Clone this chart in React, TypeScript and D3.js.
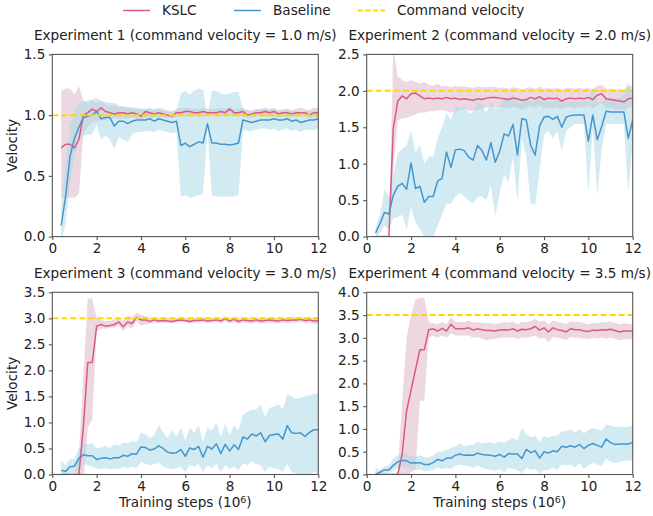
import * as d3 from 'd3';
import React, { useEffect, useRef } from 'react';

// training steps (x 10^6), one sample every 0.2
const steps = [
  0.4, 0.6, 0.8, 1.0, 1.2, 1.4, 1.6, 1.8, 2.0, 2.2,
  2.4, 2.6, 2.8, 3.0, 3.2, 3.4, 3.6, 3.8, 4.0, 4.2,
  4.4, 4.6, 4.8, 5.0, 5.2, 5.4, 5.6, 5.8, 6.0, 6.2,
  6.4, 6.6, 6.8, 7.0, 7.2, 7.4, 7.6, 7.8, 8.0, 8.2,
  8.4, 8.6, 8.8, 9.0, 9.2, 9.4, 9.6, 9.8, 10.0, 10.2,
  10.4, 10.6, 10.8, 11.0, 11.2, 11.4, 11.6, 11.8, 12.0,
];

// Experiment 1
const e1KslcMean = [
  0.73, 0.76, 0.76, 0.73, 0.80, 1.00, 1.02, 1.05, 1.03, 1.06,
  1.03, 1.02, 1.01, 1.02, 1.02, 1.01, 1.02, 1.01, 0.99, 1.03,
  1.02, 1.01, 1.02, 1.01, 1.00, 0.99, 1.02, 1.02, 1.03, 1.03,
  1.02, 1.02, 1.03, 1.02, 1.02, 1.02, 1.03, 1.02, 1.05, 1.02,
  1.02, 1.03, 1.00, 1.01, 1.02, 1.02, 1.03, 1.02, 1.03, 1.01,
  1.02, 1.02, 1.01, 1.02, 1.02, 1.02, 1.00, 1.02, 1.02,
];
const e1KslcLo = [
  0.32, 0.32, 0.32, 0.32, 0.35, 0.85, 0.90, 0.94, 0.95, 0.96,
  0.96, 0.97, 0.97, 0.97, 0.97, 0.97, 0.98, 0.97, 0.96, 0.98,
  0.98, 0.98, 0.98, 0.98, 0.98, 0.97, 0.98, 0.99, 0.99, 0.99,
  0.99, 0.99, 0.99, 0.99, 0.99, 0.99, 0.99, 0.99, 0.99, 0.99,
  0.99, 0.99, 0.98, 0.98, 0.99, 0.99, 0.99, 0.99, 0.99, 0.98,
  0.99, 0.98, 0.98, 0.99, 0.99, 0.98, 0.97, 0.98, 0.98,
];
const e1KslcHi = [
  1.20, 1.22, 1.22, 1.17, 1.24, 1.12, 1.10, 1.12, 1.10, 1.11,
  1.09, 1.08, 1.08, 1.07, 1.07, 1.06, 1.06, 1.05, 1.05, 1.05,
  1.05, 1.04, 1.05, 1.04, 1.03, 1.03, 1.05, 1.06, 1.06, 1.06,
  1.05, 1.05, 1.06, 1.05, 1.05, 1.05, 1.06, 1.05, 1.07, 1.05,
  1.05, 1.06, 1.04, 1.04, 1.05, 1.05, 1.06, 1.05, 1.06, 1.04,
  1.05, 1.05, 1.04, 1.05, 1.06, 1.05, 1.04, 1.06, 1.06,
];
const e1BaseMean = [
  0.09, 0.33, 0.66, 0.81, 0.90, 0.98, 0.99, 1.00, 1.03, 0.97,
  0.98, 0.98, 0.91, 0.95, 0.95, 0.93, 0.95, 0.96, 0.96, 0.96,
  0.97, 0.95, 0.97, 0.96, 0.95, 0.94, 0.95, 0.75, 0.77, 0.74,
  0.76, 0.78, 0.77, 0.93, 0.77, 0.77, 0.76, 0.76, 0.755, 0.76,
  0.77, 0.96, 0.95, 0.94, 0.95, 0.96, 0.96, 0.96, 0.97, 0.96,
  0.96, 0.97, 0.95, 0.96, 0.94, 0.95, 0.96, 0.96, 0.97,
];
const e1BaseLo = [
  -0.05, 0.10, 0.45, 0.65, 0.78, 0.83, 0.84, 0.84, 0.92, 0.80,
  0.83, 0.80, 0.72, 0.82, 0.80, 0.78, 0.84, 0.86, 0.86, 0.87,
  0.87, 0.86, 0.88, 0.87, 0.86, 0.85, 0.86, 0.33, 0.34, 0.32,
  0.33, 0.34, 0.35, 0.88, 0.34, 0.33, 0.33, 0.33, 0.33, 0.33,
  0.34, 0.88, 0.87, 0.87, 0.88, 0.89, 0.89, 0.88, 0.89, 0.87,
  0.88, 0.89, 0.87, 0.88, 0.86, 0.88, 0.88, 0.88, 0.89,
];
const e1BaseHi = [
  0.25, 0.60, 0.92, 1.02, 1.10, 1.11, 1.12, 1.13, 1.14, 1.12,
  1.11, 1.10, 1.10, 1.08, 1.07, 1.07, 1.06, 1.06, 1.05, 1.05,
  1.06, 1.05, 1.06, 1.05, 1.04, 1.03, 1.04, 1.18, 1.20, 1.17,
  1.20, 1.22, 1.21, 0.98, 1.20, 1.20, 1.18, 1.17, 1.18, 1.19,
  1.19, 1.05, 1.04, 1.03, 1.04, 1.05, 1.05, 1.04, 1.05, 1.03,
  1.04, 1.05, 1.03, 1.04, 1.02, 1.03, 1.04, 1.03, 1.04,
];

// Experiment 2
const e2KslcMean = [
  0, 0, 0, 0, 1.49, 1.86, 1.93, 1.89, 1.96, 1.97,
  1.93, 1.89, 1.90, 1.89, 1.90, 1.89, 1.91, 1.89, 1.90, 1.88,
  1.89, 1.88, 1.87, 1.89, 1.88, 1.90, 1.91, 1.91, 1.90, 1.89,
  1.88, 1.90, 1.89, 1.87, 1.88, 1.91, 1.89, 1.92, 1.88, 1.90,
  1.89, 1.90, 1.86, 1.89, 1.90, 1.89, 1.90, 1.89, 1.91, 1.88,
  1.94, 1.96, 1.89, 1.88, 1.87, 1.86, 1.85, 1.89, 1.90,
];
const e2KslcLo = [
  0, 0, 0, 0, 0.90, 1.60, 1.62, 1.63, 1.65, 1.68,
  1.70, 1.70, 1.72, 1.72, 1.73, 1.74, 1.72, 1.70, 1.72, 1.74,
  1.75, 1.73, 1.72, 1.74, 1.75, 1.77, 1.78, 1.77, 1.78, 1.76,
  1.76, 1.78, 1.77, 1.74, 1.76, 1.79, 1.76, 1.80, 1.75, 1.77,
  1.76, 1.78, 1.74, 1.77, 1.78, 1.76, 1.78, 1.77, 1.79, 1.76,
  1.80, 1.84, 1.76, 1.76, 1.75, 1.74, 1.73, 1.77, 1.78,
];
const e2KslcHi = [
  0, 0, 0, 0, 2.60, 2.20, 2.15, 2.12, 2.15, 2.12,
  2.10, 2.12, 2.08, 2.07, 2.10, 2.06, 2.07, 2.05, 2.07, 2.06,
  2.06, 2.05, 2.04, 2.06, 2.05, 2.05, 2.06, 2.05, 2.04, 2.05,
  2.03, 2.05, 2.04, 2.02, 2.04, 2.05, 2.03, 2.06, 2.03, 2.04,
  2.03, 2.04, 2.02, 2.04, 2.04, 2.03, 2.04, 2.03, 2.04, 2.02,
  2.07, 2.08, 2.03, 2.03, 2.02, 2.02, 2.01, 2.08, 2.06,
];
const e2BaseMean = [
  0.05, 0.18, 0.33, 0.31, 0.57, 0.69, 0.73, 0.65, 1.01, 0.66,
  0.69, 0.47, 0.55, 0.55, 0.76, 0.80, 1.16, 0.95, 1.19, 1.20,
  1.18, 1.09, 1.05, 1.25, 1.18, 1.05, 1.29, 1.02, 1.17, 1.41,
  1.38, 1.54, 1.12, 1.62, 1.60, 1.25, 1.12, 1.52, 1.64, 1.65,
  1.61, 1.65, 1.50, 1.64, 1.66, 1.67, 1.67, 1.67, 1.31, 1.67,
  1.33, 1.51, 1.72, 1.71, 1.71, 1.71, 1.71, 1.35, 1.60,
];
const e2BaseLo = [
  0.00, 0.05, 0.15, 0.10, 0.25, 0.27, 0.30, 0.10, 0.40, 0.20,
  0.10, 0.00, -0.05, 0.00, 0.15, 0.30, 0.45, 0.45, 0.55, 0.60,
  0.55, 0.50, 0.45, 0.55, 0.55, 0.50, 0.70, 0.28, 0.60, 0.85,
  0.75, 1.10, 0.48, 1.35, 1.10, 0.45, 0.44, 0.90, 1.40, 1.45,
  1.35, 1.45, 1.17, 1.45, 1.50, 1.55, 1.55, 1.55, 0.60, 1.50,
  0.58, 1.20, 1.55, 1.55, 1.55, 1.55, 1.55, 0.60, 1.30,
];
const e2BaseHi = [
  0.12, 0.30, 0.65, 0.55, 0.85, 1.15, 1.20, 1.25, 1.45, 1.15,
  1.25, 1.00, 1.10, 1.10, 1.35, 1.50, 1.70, 1.60, 1.80, 1.75,
  1.80, 1.70, 1.70, 1.85, 1.80, 1.70, 1.85, 1.75, 1.80, 1.90,
  1.90, 1.95, 1.85, 1.85, 1.90, 1.85, 1.88, 1.90, 1.90, 1.85,
  1.85, 1.90, 1.85, 1.85, 1.85, 1.85, 1.85, 1.87, 1.85, 2.05,
  1.85, 1.85, 1.90, 1.90, 1.90, 1.90, 1.95, 2.10, 1.90,
];

// Experiment 3
const e3KslcMean = [
  0, 0, 0, 0, 0, 0.90, 2.15, 2.15, 2.85, 2.88,
  2.85, 2.86, 2.88, 2.93, 2.84, 2.93, 2.90, 3.02, 2.97, 2.97,
  2.94, 2.97, 2.95, 2.96, 2.95, 2.94, 2.96, 2.97, 2.96, 2.94,
  2.96, 2.96, 2.97, 2.95, 2.96, 2.97, 2.95, 2.99, 2.95, 2.98,
  2.94, 2.97, 2.96, 2.95, 2.97, 2.95, 2.96, 2.97, 2.96, 2.95,
  2.97, 2.96, 2.97, 2.97, 2.98, 2.96, 2.97, 2.95, 2.96,
];
const e3KslcLo = [
  0, 0, 0, 0, -0.2, -0.2, 0.90, 1.05, 2.75, 2.80,
  2.80, 2.82, 2.82, 2.87, 2.75, 2.85, 2.80, 2.95, 2.86, 2.88,
  2.90, 2.92, 2.91, 2.92, 2.91, 2.90, 2.92, 2.93, 2.92, 2.90,
  2.92, 2.92, 2.93, 2.91, 2.92, 2.93, 2.91, 2.94, 2.90, 2.93,
  2.89, 2.92, 2.91, 2.90, 2.92, 2.90, 2.91, 2.92, 2.91, 2.90,
  2.92, 2.91, 2.92, 2.92, 2.93, 2.91, 2.92, 2.88, 2.89,
];
const e3KslcHi = [
  0, 0, 0, 0, 0.40, 1.90, 3.38, 3.38, 3.00, 2.97,
  2.95, 2.95, 2.98, 3.00, 2.95, 3.05, 3.02, 3.10, 3.07, 3.04,
  3.00, 3.02, 3.00, 3.01, 3.00, 2.99, 3.01, 3.02, 3.01, 3.00,
  3.01, 3.01, 3.02, 3.00, 3.01, 3.02, 3.00, 3.04, 3.00, 3.03,
  2.99, 3.02, 3.01, 3.00, 3.02, 3.00, 3.01, 3.02, 3.01, 3.00,
  3.02, 3.01, 3.02, 3.02, 3.03, 3.01, 3.02, 3.01, 3.02,
];
const e3BaseMean = [
  0.08, 0.06, 0.15, 0.16, 0.31, 0.38, 0.36, 0.36, 0.29, 0.31,
  0.32, 0.30, 0.32, 0.32, 0.37, 0.35, 0.40, 0.39, 0.53, 0.52,
  0.47, 0.49, 0.55, 0.50, 0.43, 0.41, 0.42, 0.48, 0.35, 0.51,
  0.48, 0.54, 0.33, 0.54, 0.49, 0.59, 0.40, 0.58, 0.45, 0.57,
  0.48, 0.72, 0.68, 0.78, 0.74, 0.80, 0.63, 0.75, 0.77, 0.78,
  0.68, 0.94, 0.80, 0.79, 0.80, 0.73, 0.81, 0.86, 0.86,
];
const e3BaseLo = [
  0.00, 0.00, 0.02, 0.03, 0.12, 0.20, 0.18, 0.15, 0.12, 0.10,
  0.12, 0.10, 0.12, 0.10, 0.15, 0.12, 0.15, 0.12, 0.25, 0.20,
  0.18, 0.20, 0.22, 0.15, 0.12, 0.10, 0.12, 0.15, 0.05, 0.18,
  0.15, 0.20, 0.05, 0.18, 0.12, 0.20, 0.05, 0.18, 0.10, 0.15,
  0.08, 0.22, 0.18, 0.25, 0.20, 0.18, 0.05, 0.15, 0.12, 0.10,
  0.05, 0.20, 0.05, 0.02, 0.00, -0.02, 0.00, 0.05, 0.02,
];
const e3BaseHi = [
  0.27, 0.18, 0.30, 0.30, 0.50, 0.60, 0.58, 0.60, 0.50, 0.52,
  0.55, 0.50, 0.58, 0.55, 0.62, 0.60, 0.65, 0.62, 0.80, 0.78,
  0.70, 0.75, 0.95, 0.80, 0.70, 0.85, 0.72, 0.90, 0.65, 0.90,
  0.80, 0.95, 0.62, 0.90, 0.85, 1.00, 0.72, 0.98, 0.75, 0.95,
  0.85, 1.15, 1.20, 1.25, 1.25, 1.35, 1.10, 1.28, 1.30, 1.35,
  1.25, 1.55, 1.50, 1.45, 1.48, 1.50, 1.52, 1.55, 1.55,
];

// Experiment 4
const e4KslcMean = [
  0, 0, 0, 0, 0, 0, 0.45, 1.40, 1.85, 2.30,
  2.74, 2.74, 3.18, 3.20, 3.15, 3.21, 3.15, 3.30, 3.20, 3.20,
  3.20, 3.22, 3.17, 3.20, 3.18, 3.16, 3.16, 3.15, 3.17, 3.18,
  3.17, 3.20, 3.15, 3.19, 3.18, 3.20, 3.25, 3.17, 3.22, 3.13,
  3.22, 3.18, 3.16, 3.13, 3.20, 3.18, 3.18, 3.15, 3.14, 3.17,
  3.16, 3.18, 3.17, 3.19, 3.16, 3.13, 3.15, 3.15, 3.15,
];
const e4KslcLo = [
  0, 0, 0, 0, 0, 0, -0.10, -0.10, 0.05, 0.10,
  1.62, 1.62, 3.00, 3.05, 3.00, 3.05, 3.00, 3.10, 3.05, 3.05,
  3.05, 3.05, 3.00, 3.02, 2.98, 2.95, 2.97, 2.98, 3.00, 3.00,
  3.00, 3.02, 2.98, 3.00, 3.00, 3.02, 3.05, 2.98, 3.00, 2.90,
  3.02, 3.00, 2.98, 2.95, 3.02, 3.00, 3.00, 2.98, 2.97, 3.00,
  2.98, 3.00, 2.98, 3.00, 2.98, 2.95, 2.97, 2.97, 2.97,
];
const e4KslcHi = [
  0, 0, 0, 0, 0, 0.05, 1.60, 3.00, 3.50, 3.85,
  3.88, 3.88, 3.35, 3.32, 3.30, 3.35, 3.30, 3.45, 3.35, 3.35,
  3.35, 3.38, 3.33, 3.35, 3.33, 3.32, 3.32, 3.30, 3.32, 3.35,
  3.33, 3.36, 3.30, 3.35, 3.35, 3.37, 3.42, 3.35, 3.38, 3.30,
  3.38, 3.35, 3.33, 3.30, 3.36, 3.35, 3.35, 3.32, 3.30, 3.33,
  3.32, 3.35, 3.34, 3.36, 3.33, 3.30, 3.32, 3.31, 3.30,
];
const e4BaseMean = [
  0.00, 0.05, 0.10, 0.10, 0.20, 0.28, 0.31, 0.30, 0.25, 0.25,
  0.26, 0.22, 0.22, 0.26, 0.33, 0.30, 0.36, 0.36, 0.42, 0.45,
  0.42, 0.43, 0.42, 0.47, 0.44, 0.43, 0.42, 0.40, 0.44, 0.38,
  0.46, 0.45, 0.45, 0.35, 0.55, 0.48, 0.52, 0.36, 0.50, 0.47,
  0.52, 0.50, 0.62, 0.60, 0.63, 0.60, 0.66, 0.57, 0.64, 0.68,
  0.64, 0.60, 0.78, 0.70, 0.66, 0.67, 0.67, 0.67, 0.70,
];
const e4BaseLo = [
  -0.05, 0.00, 0.02, 0.03, 0.08, 0.15, 0.18, 0.15, 0.12, 0.10,
  0.10, 0.08, 0.08, 0.10, 0.15, 0.12, 0.15, 0.12, 0.20, 0.22,
  0.20, 0.18, 0.15, 0.20, 0.15, 0.12, 0.10, 0.08, 0.12, 0.05,
  0.15, 0.12, 0.10, 0.02, 0.15, 0.10, 0.12, 0.02, 0.10, 0.10,
  0.15, 0.10, 0.22, 0.20, 0.22, 0.15, 0.25, 0.12, 0.20, 0.25,
  0.22, 0.18, 0.35, 0.28, 0.25, 0.28, 0.30, 0.30, 0.32,
];
const e4BaseHi = [
  0.15, 0.10, 0.18, 0.20, 0.35, 0.42, 0.45, 0.45, 0.40, 0.40,
  0.42, 0.38, 0.38, 0.42, 0.50, 0.50, 0.55, 0.58, 0.62, 0.68,
  0.62, 0.65, 0.65, 0.72, 0.68, 0.70, 0.70, 0.68, 0.72, 0.70,
  0.75, 0.80, 0.75, 1.02, 0.88, 0.82, 0.85, 0.72, 0.85, 0.80,
  0.85, 0.85, 0.95, 0.95, 0.98, 0.92, 1.00, 0.90, 0.98, 1.02,
  1.00, 0.95, 1.10, 1.08, 1.05, 1.05, 1.05, 1.05, 1.08,
];

const titles = [
  'Experiment 1 (command velocity = 1.0 m/s)',
  'Experiment 2 (command velocity = 2.0 m/s)',
  'Experiment 3 (command velocity = 3.0 m/s)',
  'Experiment 4 (command velocity = 3.5 m/s)',
];
const commandVelocity = [1.0, 2.0, 3.0, 3.5];
const yMax = [1.5, 2.5, 3.5, 4.0];
const xTicks = [0, 2, 4, 6, 8, 10, 12];
const legendLabels = ['KSLC', 'Baseline', 'Command velocity'];

const panels = [
  { kslc: [e1KslcMean, e1KslcLo, e1KslcHi], base: [e1BaseMean, e1BaseLo, e1BaseHi] },
  { kslc: [e2KslcMean, e2KslcLo, e2KslcHi], base: [e2BaseMean, e2BaseLo, e2BaseHi] },
  { kslc: [e3KslcMean, e3KslcLo, e3KslcHi], base: [e3BaseMean, e3BaseLo, e3BaseHi] },
  { kslc: [e4KslcMean, e4KslcLo, e4KslcHi], base: [e4BaseMean, e4BaseLo, e4BaseHi] },
];

const W = 653;
const H = 516;
const FONT = "'DejaVu Sans', sans-serif";
const FS = 13.6;
const KSLC_COLOR = '#dc5a80';
const KSLC_FILL = '#e7cbd8';
const BASE_COLOR = '#4596cd';
const BASE_FILL = '#add8e6';
const CMD_COLOR = '#ffd700';
const SPINE = '#555';

const colLeft = [52.3, 366.7];
const rowTop = [54.4, 292.3];
const plotW = 266;
const plotH = 182.2;

export default function App() {
  const svgRef = useRef(null);

  useEffect(() => {
    const svg = d3.select(svgRef.current);
    svg.selectAll('*').remove();
    svg.append('rect').attr('width', W).attr('height', H).attr('fill', '#fff');

    // legend across the top
    const legendX = [123, 234, 358];
    const legend = svg.append('g').attr('font-family', FONT).attr('font-size', FS);
    legendLabels.forEach((label, i) => {
      const x = legendX[i];
      legend.append('line')
        .attr('x1', x).attr('x2', x + 27).attr('y1', 10.5).attr('y2', 10.5)
        .attr('stroke', [KSLC_COLOR, BASE_COLOR, CMD_COLOR][i])
        .attr('stroke-width', i === 2 ? 1.8 : 1.5)
        .attr('stroke-dasharray', i === 2 ? '5,2.5' : null);
      legend.append('text').attr('x', x + 39).attr('y', 15.3).attr('fill', '#222').text(label);
    });

    panels.forEach((p, i) => {
      const col = i % 2;
      const row = Math.floor(i / 2);
      const g = svg.append('g')
        .attr('transform', `translate(${colLeft[col]},${rowTop[row]})`)
        .attr('font-family', FONT)
        .attr('font-size', FS);

      const x = d3.scaleLinear().domain([0, 12]).range([0, plotW]);
      const y = d3.scaleLinear().domain([0, yMax[i]]).range([plotH, 0]);

      const clipId = `clip-${i}`;
      g.append('clipPath').attr('id', clipId)
        .append('rect').attr('width', plotW).attr('height', plotH);
      const plot = g.append('g').attr('clip-path', `url(#${clipId})`);

      const line = d3.line<number>().x((_, j) => x(steps[j])).y((d) => y(d));

      const drawBand = (lo: number[], hi: number[], fill: string, opacity: number) => {
        const area = d3.area<number>()
          .x((_, j) => x(steps[j]))
          .y0((_, j) => y(lo[j]))
          .y1((_, j) => y(hi[j]));
        plot.append('path').attr('d', area(steps)).attr('fill', fill).attr('fill-opacity', opacity);
      };
      // shaded spread first, means on top
      drawBand(p.kslc[1], p.kslc[2], KSLC_FILL, 0.75);
      drawBand(p.base[1], p.base[2], BASE_FILL, 0.55);

      plot.append('path').attr('d', line(p.kslc[0])).attr('fill', 'none')
        .attr('stroke', KSLC_COLOR).attr('stroke-width', 1.5).attr('stroke-linejoin', 'round');
      plot.append('path').attr('d', line(p.base[0])).attr('fill', 'none')
        .attr('stroke', BASE_COLOR).attr('stroke-width', 1.5).attr('stroke-linejoin', 'round');

      plot.append('line')
        .attr('x1', 0).attr('x2', plotW)
        .attr('y1', y(commandVelocity[i])).attr('y2', y(commandVelocity[i]))
        .attr('stroke', CMD_COLOR).attr('stroke-width', 2).attr('stroke-dasharray', '6,3');

      // frame
      g.append('rect').attr('width', plotW).attr('height', plotH)
        .attr('fill', 'none').attr('stroke', SPINE).attr('stroke-width', 1.1);

      // axes
      const xAxis = d3.axisBottom(x).tickValues(xTicks).tickSize(3.5).tickPadding(3.5)
        .tickFormat(d3.format('d'));
      const yAxis = d3.axisLeft(y).tickValues(d3.range(0, yMax[i] + 0.01, 0.5)).tickSize(3.5)
        .tickPadding(3.5).tickFormat(d3.format('.1f'));
      const gx = g.append('g').attr('transform', `translate(0,${plotH})`).call(xAxis);
      const gy = g.append('g').call(yAxis);
      [gx, gy].forEach((a) => {
        a.select('.domain').remove();
        a.selectAll('line').attr('stroke', SPINE).attr('stroke-width', 1.1);
        a.selectAll('text').attr('font-family', FONT).attr('font-size', FS).attr('fill', '#222');
      });

      g.append('text')
        .attr('x', plotW / 2).attr('y', -14.5)
        .attr('text-anchor', 'middle').attr('fill', '#222')
        .text(titles[i]);

      if (col === 0) {
        g.append('text')
          .attr('transform', `translate(${-35},${plotH / 2}) rotate(-90)`)
          .attr('text-anchor', 'middle').attr('fill', '#222')
          .text('Velocity');
      }
      if (row === 1) {
        const t = g.append('text')
          .attr('x', plotW / 2).attr('y', plotH + 33)
          .attr('text-anchor', 'middle').attr('fill', '#222');
        t.append('tspan').text('Training steps (10');
        t.append('tspan').attr('dy', -4.5).attr('font-size', FS * 0.7).text('6');
        t.append('tspan').attr('dy', 4.5).text(')');
      }
    });
  }, []);

  return (
    <svg ref={svgRef} width={W} height={H} style={{ position: 'absolute', left: 0, top: 0 }} />
  );
}
